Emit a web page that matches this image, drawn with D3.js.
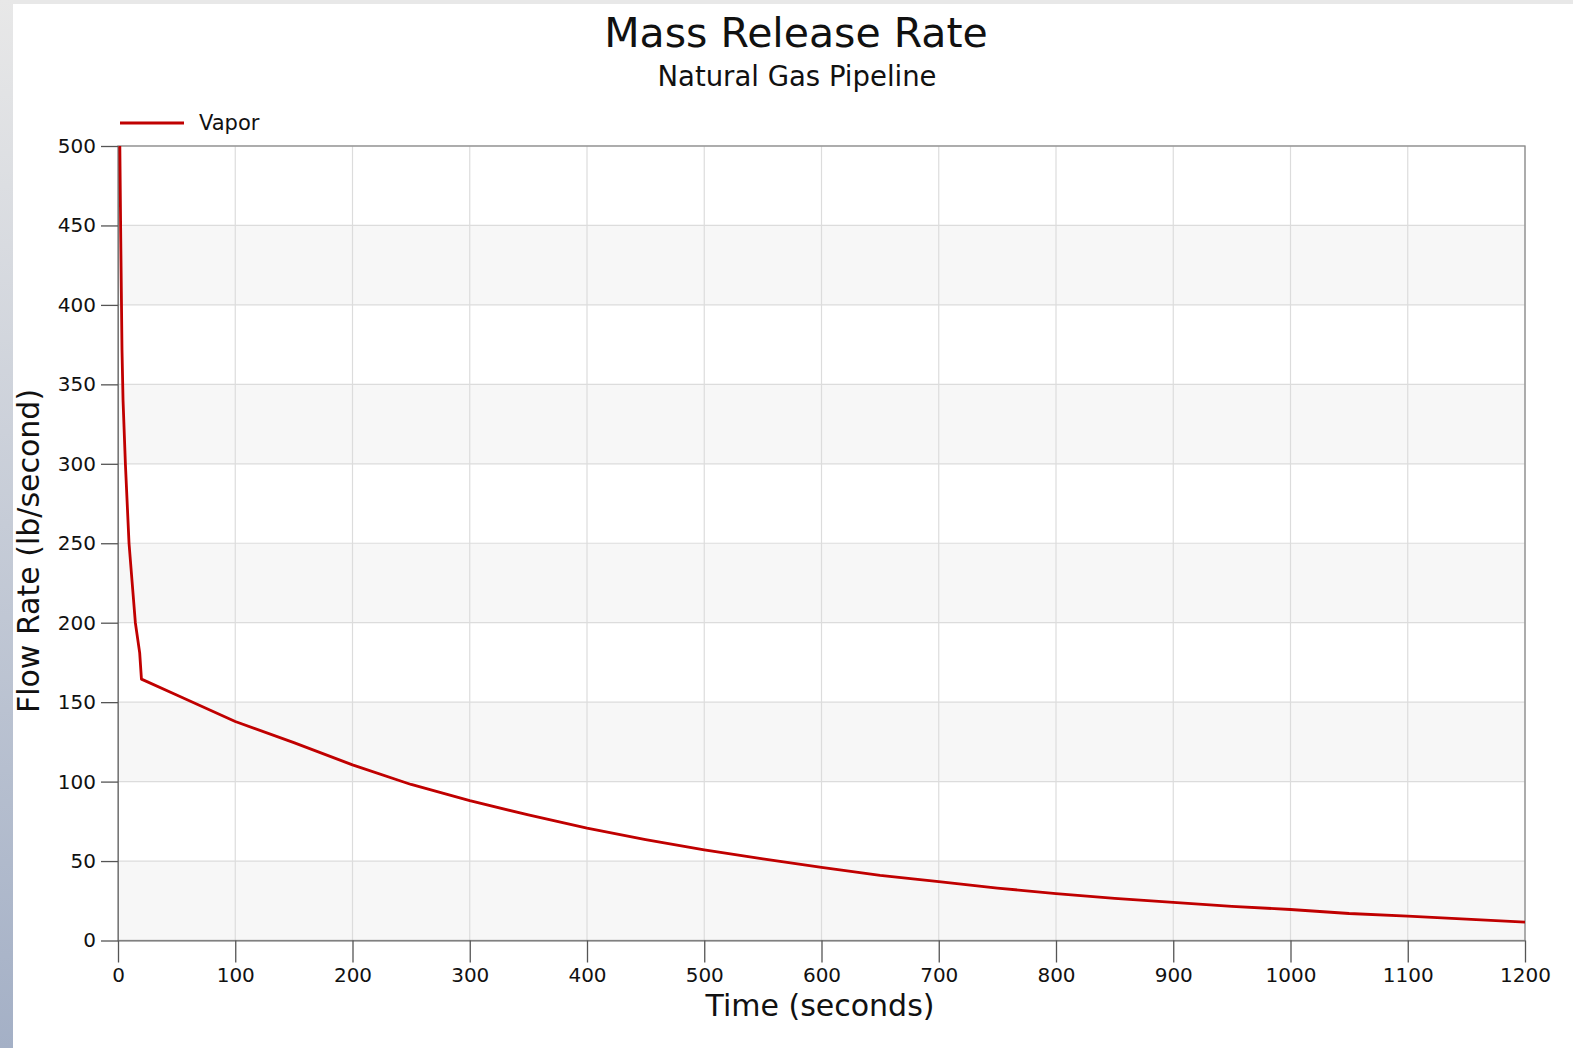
<!DOCTYPE html>
<html>
<head>
<meta charset="utf-8">
<script src="https://cdn.jsdelivr.net/npm/d3@7"></script>
<style>
  html, body { margin: 0; padding: 0; background: #fff; overflow: hidden; }
  svg { display: block; }
  text { font-family: "DejaVu Sans", Verdana, sans-serif; fill: #111; }
</style>
</head>
<body>
<div id="chart"></div>
<script>
// time in seconds, vapor flow in lb/s
const timeS = [1.3, 2.3, 3.4, 4.3, 6.3, 9.4, 14.8, 18.5, 20, 50, 100, 150, 200, 250, 300, 350, 400, 450, 500, 550,
  600, 650, 700, 750, 800, 850, 900, 950, 1000, 1050, 1100, 1150, 1200];
const vaporFlow = [520, 445, 372, 340, 300, 250, 200, 181, 164.5, 154.5, 137.8, 124.5, 110.5, 98.2, 88, 79, 70.7, 63.5, 57, 51.3,
  46, 41, 37, 33, 29.5, 26.5, 24, 21.5, 19.5, 17, 15.4, 13.5, 11.5];
const xTicks = [0, 100, 200, 300, 400, 500, 600, 700, 800, 900, 1000, 1100, 1200];
const yTicks = [0, 50, 100, 150, 200, 250, 300, 350, 400, 450, 500];
const seriesName = 'Vapor';

const W = 1573, H = 1048;
const plot = { left: 118, right: 1525, top: 146, bottom: 940.5 };

const svg = d3.select('#chart').append('svg')
  .attr('width', W)
  .attr('height', H);

// frame decoration of the window
const grad = svg.append('defs').append('linearGradient')
  .attr('id', 'sideGrad').attr('x1', 0).attr('y1', 0).attr('x2', 0).attr('y2', 1);
grad.append('stop').attr('offset', '0%').attr('stop-color', '#e8e8e8');
grad.append('stop').attr('offset', '100%').attr('stop-color', '#a4b0c6');
svg.append('rect').attr('x', 0).attr('y', 0).attr('width', W).attr('height', 4).attr('fill', '#e8e8e8');
svg.append('rect').attr('x', 0).attr('y', 0).attr('width', 13).attr('height', H).attr('fill', 'url(#sideGrad)');

svg.select('defs').append('clipPath').attr('id', 'plotClip')
  .append('rect')
  .attr('x', plot.left).attr('y', plot.top)
  .attr('width', plot.right - plot.left).attr('height', plot.bottom - plot.top);

const x = d3.scaleLinear().domain([0, 1200]).range([plot.left, plot.right]);
const y = d3.scaleLinear().domain([0, 500]).range([plot.bottom, plot.top]);

// alternating bands
svg.append('g').selectAll('rect')
  .data(yTicks.filter(v => v % 100 === 0 && v < 500))
  .join('rect')
  .attr('x', plot.left)
  .attr('y', d => y(d + 50))
  .attr('width', plot.right - plot.left)
  .attr('height', d => y(d) - y(d + 50))
  .attr('fill', '#f7f7f7');

// grid
svg.append('g').selectAll('line')
  .data(yTicks)
  .join('line')
  .attr('x1', plot.left).attr('x2', plot.right)
  .attr('y1', d => y(d)).attr('y2', d => y(d))
  .attr('stroke', '#dcdcdc').attr('stroke-width', 1.2);

svg.append('g').selectAll('line')
  .data(xTicks)
  .join('line')
  .attr('x1', d => x(d)).attr('x2', d => x(d))
  .attr('y1', plot.top).attr('y2', plot.bottom)
  .attr('stroke', '#dcdcdc').attr('stroke-width', 1.2);

// border
svg.append('rect')
  .attr('x', plot.left).attr('y', plot.top)
  .attr('width', plot.right - plot.left).attr('height', plot.bottom - plot.top)
  .attr('fill', 'none').attr('stroke', '#8a8a8a').attr('stroke-width', 1.3);

// axes
const yAxis = svg.append('g')
  .attr('transform', `translate(${plot.left},0)`)
  .call(d3.axisLeft(y).tickValues(yTicks).tickFormat(d3.format('d'))
    .tickSize(17).tickSizeOuter(0).tickPadding(5));
yAxis.select('.domain').attr('stroke', '#777');
yAxis.selectAll('.tick line').attr('stroke', '#555').attr('stroke-width', 1.3);
yAxis.selectAll('.tick text').attr('font-size', 20).attr('fill', '#111');

const xAxis = svg.append('g')
  .attr('transform', `translate(0,${plot.bottom})`)
  .call(d3.axisBottom(x).tickValues(xTicks).tickFormat(d3.format('d'))
    .tickSize(22).tickSizeOuter(0).tickPadding(5));
xAxis.select('.domain').attr('stroke', '#777');
xAxis.selectAll('.tick line').attr('stroke', '#555').attr('stroke-width', 1.3);
xAxis.selectAll('.tick text').attr('font-size', 20).attr('fill', '#111');
svg.selectAll('.tick text').attr('font-family', '"DejaVu Sans", Verdana, sans-serif');

// series
const data = timeS.map((t, i) => ({ t, v: vaporFlow[i] }));
const line = d3.line()
  .x(d => x(d.t))
  .y(d => y(d.v));

svg.append('path')
  .datum(data)
  .attr('clip-path', 'url(#plotClip)')
  .attr('fill', 'none')
  .attr('stroke', '#c00000')
  .attr('stroke-width', 2.8)
  .attr('stroke-linejoin', 'round')
  .attr('d', line);

// legend
svg.append('line')
  .attr('x1', 120).attr('x2', 184).attr('y1', 123).attr('y2', 123)
  .attr('stroke', '#c00000').attr('stroke-width', 2.8);
svg.append('text')
  .attr('x', 199).attr('y', 130)
  .attr('font-size', 21)
  .text(seriesName);

// titles
svg.append('text')
  .attr('x', 796).attr('y', 47)
  .attr('text-anchor', 'middle')
  .attr('font-size', 41)
  .text('Mass Release Rate');
svg.append('text')
  .attr('x', 797).attr('y', 86)
  .attr('text-anchor', 'middle')
  .attr('font-size', 27.5)
  .text('Natural Gas Pipeline');

svg.append('text')
  .attr('x', 820).attr('y', 1016)
  .attr('text-anchor', 'middle')
  .attr('font-size', 30)
  .text('Time (seconds)');
svg.append('text')
  .attr('transform', 'translate(39,551) rotate(-90)')
  .attr('text-anchor', 'middle')
  .attr('font-size', 30)
  .text('Flow Rate (lb/second)');
</script>
</body>
</html>
